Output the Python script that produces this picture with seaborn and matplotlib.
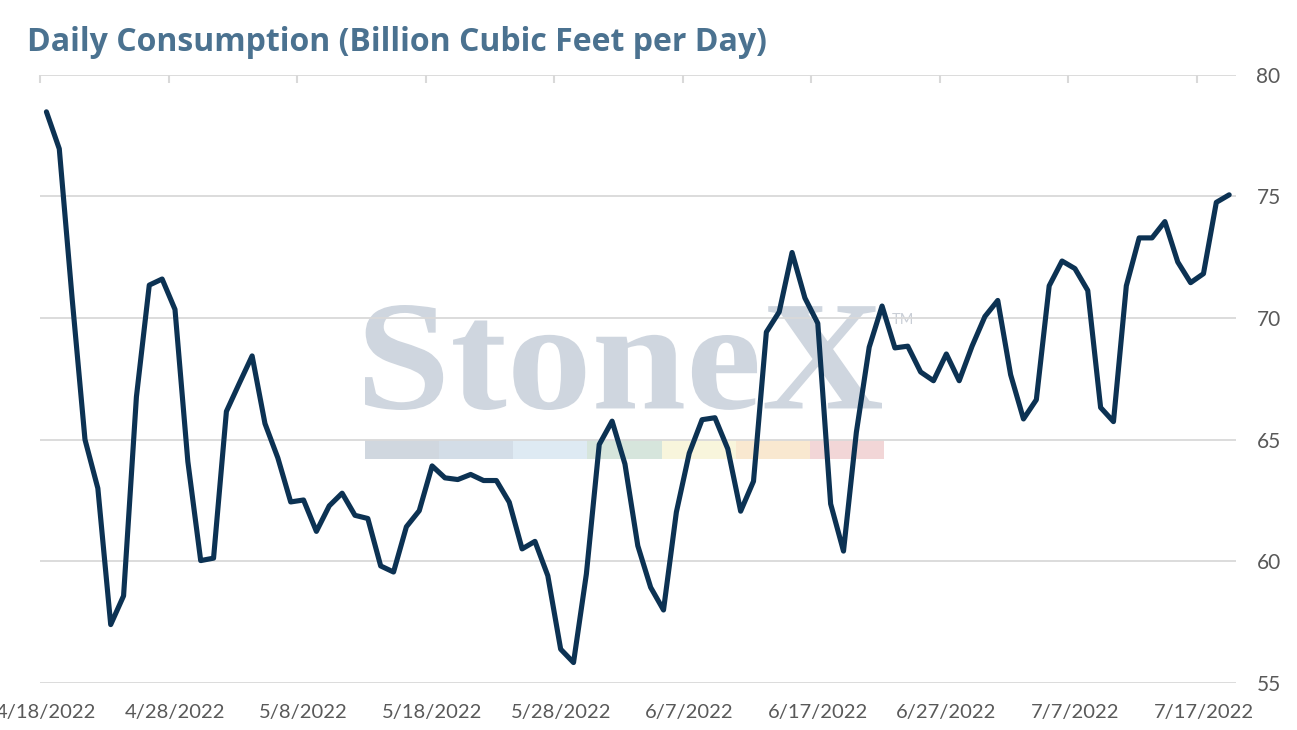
import numpy as np
import pandas as pd
import matplotlib
matplotlib.use("Agg")
import matplotlib.pyplot as plt
import matplotlib.dates as mdates
import seaborn as sns
from matplotlib.textpath import TextPath
from matplotlib.patches import PathPatch, Rectangle
from matplotlib.font_manager import FontProperties
from matplotlib.transforms import Affine2D

# Daily consumption, Bcf/d (4/18/2022 - 7/19/2022)
start_date = "2022-04-18"
consumption = [
    78.47, 76.95, 70.8, 65.0, 63.0, 57.4, 58.58, 66.76, 71.35, 71.6,
    70.35, 64.1, 60.03, 60.13, 66.16, 67.31, 68.44, 65.66, 64.25, 62.44,
    62.52, 61.23, 62.28, 62.8, 61.89, 61.76, 59.81, 59.56, 61.42, 62.08,
    63.92, 63.43, 63.36, 63.57, 63.32, 63.32, 62.43, 60.51, 60.82, 59.41,
    56.39, 55.84, 59.48, 64.8, 65.76, 64.0, 60.64, 58.93, 58.0, 62.02,
    64.44, 65.82, 65.9, 64.62, 62.06, 63.29, 69.42, 70.25, 72.69, 70.82,
    69.78, 62.36, 60.42, 65.3, 68.8, 70.49, 68.77, 68.84, 67.78, 67.42,
    68.52, 67.42, 68.84, 70.06, 70.72, 67.67, 65.85, 66.64, 71.32, 72.34,
    72.03, 71.13, 66.32, 65.74, 71.32, 73.29, 73.29, 73.96, 72.3, 71.45,
    71.82, 74.75, 75.06,
]
y_ticks = [55, 60, 65, 70, 75, 80]
tick_every_days = 10
title = "Daily Consumption (Billion Cubic Feet per Day)"
brand_colors = ["#d0d7df", "#d3dde7", "#deeaf3", "#d6e5dc",
                "#f8f5dc", "#f9e8d0", "#f2d6d7"]

W, H = 1297, 730
line_color = "#0c3253"
grid_color = "#d9d9d9"
label_color = "#595959"

sns.set_style("white")
plt.rcParams["font.family"] = ["Lato", "DejaVu Sans"]

dates = pd.date_range(start_date, periods=len(consumption), freq="D")
df = pd.DataFrame({"date": dates + pd.Timedelta(hours=12), "bcfd": consumption})

fig = plt.figure(figsize=(W / 100, H / 100), dpi=100)
ax = fig.add_axes([40 / W, 47 / H, (1235.6 - 40) / W, (683 - 74.6) / H])
ax.set_facecolor("none")

sns.lineplot(data=df, x="date", y="bcfd", ax=ax, color=line_color,
             linewidth=3.7, solid_joinstyle="round", solid_capstyle="round",
             zorder=3)

# x axis: tick marks at midnight on top, labels centred on the day
tick_days = pd.date_range(start_date, dates[-1], freq=f"{tick_every_days}D")
ax.set_xticks(mdates.date2num(tick_days))
ax.set_xticks(mdates.date2num(tick_days + pd.Timedelta(hours=12)), minor=True)
ax.set_xticklabels([f"{d.month}/{d.day}/{d.year}" for d in tick_days], minor=True)
ax.tick_params(axis="x", which="major", top=True, bottom=False,
               labelbottom=False, direction="in", length=6, width=1.5,
               color=grid_color)
ax.tick_params(axis="x", which="minor", top=False, bottom=True, length=0,
               labelbottom=True, labelsize=14.5, labelcolor=label_color, pad=15)
ax.set_xlim(mdates.date2num(dates[0]),
            mdates.date2num(dates[-1] + pd.Timedelta(days=1)))

ax.set_ylim(y_ticks[0], y_ticks[-1])
ax.set_yticks(y_ticks)
ax.yaxis.tick_right()
ax.tick_params(axis="y", length=0, pad=15, labelsize=15, labelcolor=label_color)
ax.grid(axis="y", color=grid_color, linewidth=1.3)
ax.grid(axis="x", visible=False)
ax.set_xlabel("")
ax.set_ylabel("")
sns.despine(ax=ax, left=True, right=True, top=True, bottom=True)

fig.text(27 / W, 1 - 51 / H, title, fontsize=23, fontweight="bold",
         family=["Open Sans", "DejaVu Sans"],
         color="#4b7290", ha="left", va="baseline")

# StoneX watermark
tp = TextPath((0, 0), "StoneX", size=100,
              prop=FontProperties(family="Liberation Serif", weight="bold"))
bb = tp.get_extents()
x0, x1, top, base = 365, 882, 305, 410
sx = (x1 - x0) / bb.width
sy = (base - top) / bb.height
trf = (Affine2D().translate(-bb.x0, -bb.y0).scale(sx / W, sy / H)
       .translate(x0 / W, (H - base) / H) + fig.transFigure)
fig.add_artist(PathPatch(tp, transform=trf, facecolor="#cfd6df",
                         edgecolor="none", zorder=-1))
fig.text(892 / W, 1 - 320 / H, "TM", fontsize=10.5, color="#c9ced6",
         ha="left", va="center", zorder=-1)
seg_w = (884 - 365) / len(brand_colors)
for i, c in enumerate(brand_colors):
    fig.add_artist(Rectangle(((365 + i * seg_w) / W, 1 - 459 / H), seg_w / W,
                             19 / H, transform=fig.transFigure, facecolor=c,
                             edgecolor="none", zorder=-1))

fig.savefig("out.png", dpi=100)
